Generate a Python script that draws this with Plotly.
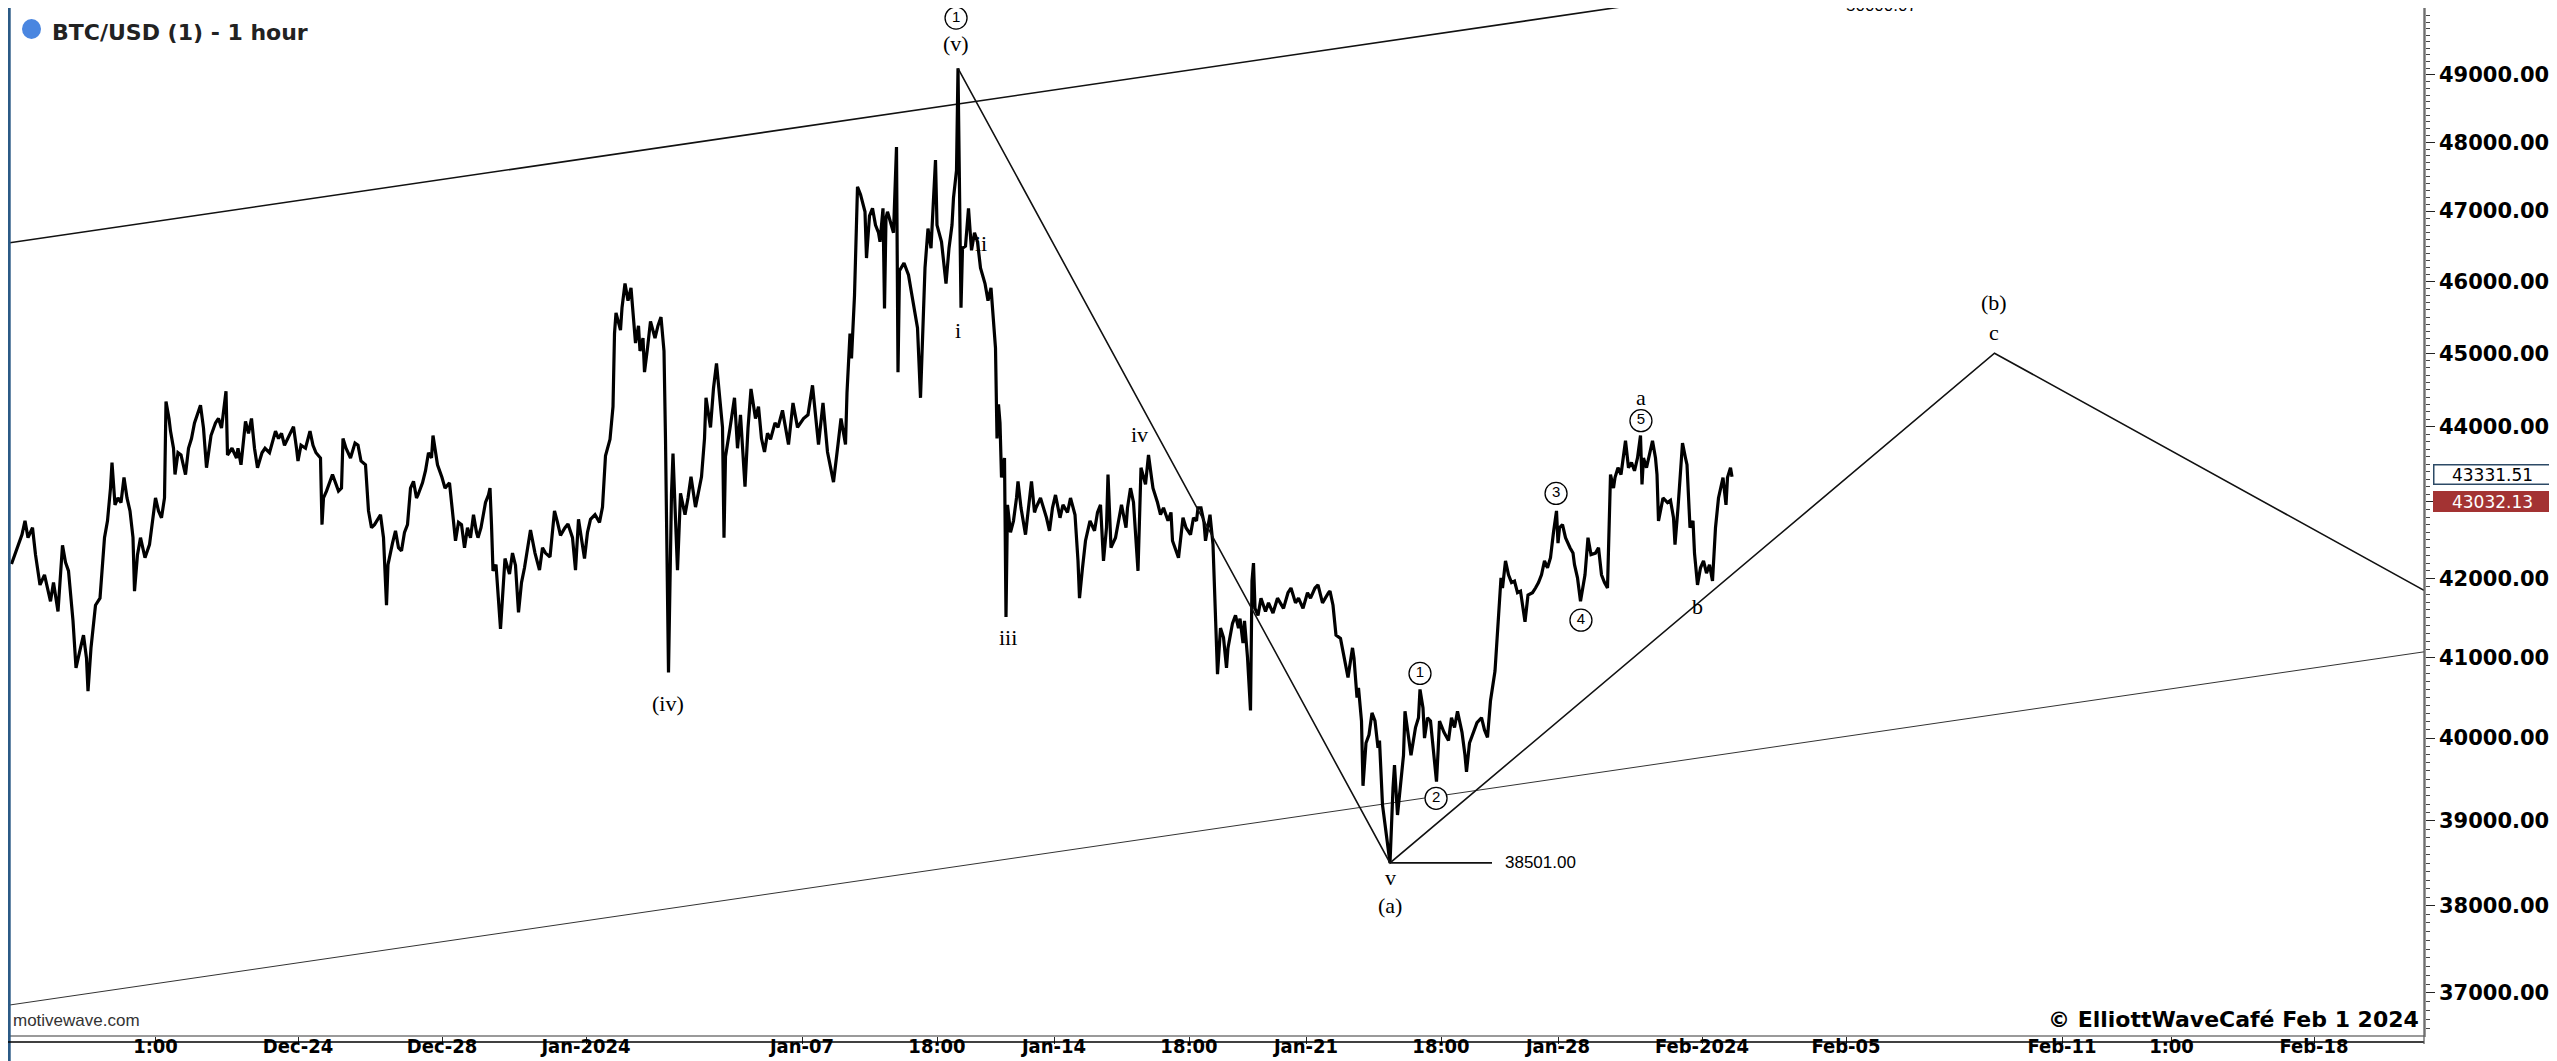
import math
import pandas as pd
import plotly.graph_objects as go

# ---------------- data ----------------
T0 = pd.Timestamp("2023-12-16 00:00")  # hours below are counted from this moment

hours = [
    1, 5, 8, 10, 12, 15, 17, 20, 23, 27, 29, 32, 35, 37, 39, 42, 44, 47, 49, 51,
    52, 54, 55, 57, 60, 63, 65, 67, 68, 70, 72, 74, 76, 78, 80, 82, 83, 85, 87, 90,
    93, 95, 97, 99, 101, 103, 104, 106, 107, 109, 110, 112, 114, 117, 119, 121, 123, 127, 129, 131,
    133, 134, 137, 139, 141, 143, 144, 145, 148, 151, 152, 154, 157, 159, 161, 163, 165, 168, 170, 173,
    177, 179, 181, 183, 185, 189, 191, 192, 194, 197, 200, 202, 204, 207, 208, 209, 211, 213, 215, 219,
    221, 222, 224, 227, 230, 232, 234, 237, 239, 241, 243, 247, 249, 251, 252, 255, 257, 259, 261, 263,
    265, 267, 269, 271, 272, 275, 277, 279, 281, 282, 284, 285, 288, 290, 293, 295, 297, 299, 301, 303,
    305, 307, 309, 311, 312, 314, 315, 317, 319, 320, 321, 322, 324, 325, 327, 330, 333, 335, 337, 339,
    341, 343, 347, 350, 353, 355, 357, 360, 363, 365, 367, 370, 372, 375, 377, 379, 381, 383, 385, 387,
    390, 393, 395, 397, 400, 402, 403, 404, 407, 408, 410, 412, 414, 417, 419, 420, 422, 423, 425, 427,
    430, 432, 434, 436, 437, 439, 441, 442, 443, 445, 447, 449, 450, 452, 454, 457, 461, 463, 464, 467,
    469, 471, 473, 475, 476, 477, 480, 483, 485, 487, 490, 492, 494, 497, 499, 501, 503, 505, 507, 510,
    512, 515, 519, 522, 525, 529, 532, 535, 539, 542, 545, 549, 552, 554, 557, 558, 560, 561, 563, 565,
    567, 569, 570, 571, 573, 575, 577, 579, 580, 582, 583, 584, 585, 589, 591, 592, 593, 596, 599, 601,
    603, 605, 607, 609, 610, 612, 614, 617, 618, 621, 623, 624, 626, 628, 629, 631, 632, 633, 634, 635,
    637, 639, 641, 643, 645, 647, 650, 652, 654, 657, 658, 659, 660, 661, 663, 664, 665, 667, 669, 671,
    672, 674, 677, 679, 681, 683, 684, 687, 691, 693, 695, 697, 700, 702, 705, 707, 710, 712, 713, 715,
    717, 720, 723, 725, 727, 729, 731, 732, 733, 734, 737, 739, 741, 744, 745, 747, 749, 752, 753, 754,
    757, 759, 761, 762, 765, 767, 769, 772, 774, 775, 779, 781, 782, 784, 787, 789, 791, 792, 794, 796,
    797, 800, 802, 803, 805, 807, 809, 811, 812, 815, 817, 819, 820, 822, 823, 825, 827, 828, 829, 830,
    832, 834, 837, 839, 842, 845, 849, 852, 854, 857, 859, 862, 865, 867, 870, 872, 875, 879, 880, 882,
    884, 887, 889, 891, 892, 895, 896, 898, 899, 901, 902, 904, 906, 908, 910, 912, 913, 915, 917, 920,
    922, 923, 925, 927, 929, 930, 932, 934, 937, 939, 940, 942, 943, 945, 947, 949, 951, 952, 953, 956,
    959, 961, 963, 965, 968, 970, 971, 973, 975, 978, 981, 983, 985, 987, 990, 992, 994, 995, 997, 999,
    1001, 1003, 1005, 1007, 1010, 1012, 1015, 1017, 1019, 1021, 1023, 1025, 1027, 1029, 1031, 1032, 1033, 1035, 1037, 1040,
    1042, 1043, 1045, 1047, 1049, 1050, 1052, 1054, 1057, 1059, 1061, 1063, 1065, 1066, 1067, 1069, 1070, 1072, 1074, 1077,
    1079, 1081, 1083, 1085, 1087, 1088, 1089, 1091, 1093, 1095, 1097, 1098, 1099, 1101, 1102, 1105, 1107, 1109, 1110, 1112,
    1113, 1115, 1117, 1118, 1120, 1122, 1123, 1125, 1127, 1129, 1131, 1133, 1135, 1136, 1137, 1139, 1141, 1142, 1144, 1145,
    1147, 1148,
]

prices = [
    42190, 42400, 42570, 42750, 42530, 42660, 42310, 41920, 42050, 41710, 41950, 41580, 42430, 42210, 42100, 41460, 40870, 41120, 41280, 40990,
    40580, 41120, 41330, 41660, 41750, 42530, 42750, 43180, 43520, 42960, 43050, 42990, 43320, 43050, 42880, 42530, 41840, 42310, 42530, 42270,
    42440, 42790, 43050, 42880, 42790, 43050, 44340, 44110, 43940, 43710, 43360, 43650, 43620, 43360, 43710, 43840, 44050, 44290, 43980, 43450,
    43710, 43880, 44050, 44110, 43980, 44320, 44480, 43620, 43710, 43580, 43710, 43490, 44070, 43910, 44110, 43710, 43450, 43650, 43710, 43650,
    43940, 43840, 43910, 43750, 43840, 44000, 43710, 43540, 43750, 43710, 43940, 43750, 43650, 43580, 42700, 43050, 43140, 43250, 43360, 43140,
    43180, 43840, 43710, 43580, 43780, 43750, 43540, 43490, 42880, 42660, 42700, 42830, 42530, 41660, 42180, 42460, 42620, 42400, 42360, 42600,
    42700, 43180, 43270, 43050, 43090, 43250, 43410, 43650, 43580, 43880, 43650, 43490, 43320, 43180, 43250, 42880, 42490, 42730, 42700, 42400,
    42660, 42530, 42830, 42600, 42530, 42660, 42790, 42990, 43090, 43180, 42700, 42100, 42180, 41880, 41360, 42260, 42060, 42330, 42170, 41570,
    41950, 42140, 42630, 42330, 42110, 42400, 42330, 42280, 42880, 42730, 42560, 42660, 42710, 42530, 42110, 42770, 42530, 42260, 42600, 42770,
    42830, 42730, 42930, 43610, 43830, 44270, 45270, 45560, 45320, 45630, 45970, 45730, 45910, 45140, 45380, 45030, 45210, 44740, 45070, 45440,
    45210, 45380, 45500, 45030, 43830, 40810, 43110, 43640, 43110, 42110, 43110, 42920, 42830, 43050, 43330, 42930, 43330, 43840, 44390, 43990,
    44520, 44860, 44390, 43990, 42530, 43600, 43980, 44390, 43710, 44160, 43200, 43980, 44510, 44110, 44270, 43840, 43660, 43910, 43830, 44050,
    43990, 44220, 43760, 44320, 43990, 44110, 44160, 44560, 43760, 44320, 43660, 43260, 43760, 44110, 43760, 44460, 45270, 44930, 45800, 47350,
    47240, 47040, 46990, 46330, 46930, 47040, 46800, 46690, 46560, 47040, 45620, 46900, 46990, 46690, 47930, 44740, 46150, 46260, 46090, 45840,
    45620, 45350, 44390, 45440, 46190, 46750, 46470, 47740, 46800, 46560, 46190, 45970, 46470, 46800, 47190, 47590, 49100, 47330, 45630, 46470,
    46500, 47040, 46440, 46690, 46560, 46190, 45970, 45730, 45910, 45070, 43840, 44300, 44050, 43320, 43580, 41510, 42960, 42600, 42750, 43050,
    43270, 42920, 42570, 42920, 43270, 42860, 42920, 43050, 42790, 42620, 42920, 43090, 42790, 42960, 42860, 43050, 42830, 42230, 41750, 42140,
    42490, 42750, 42620, 42860, 42960, 42230, 42660, 43360, 42920, 42400, 42530, 42730, 42960, 42660, 42920, 43180, 42990, 42100, 42790, 43450,
    43230, 43620, 43320, 43180, 42990, 42830, 42920, 42750, 42860, 42490, 42270, 42600, 42790, 42660, 42570, 42790, 42750, 42920, 42920, 42730,
    42490, 42830, 42440, 41880, 40790, 41370, 41250, 40870, 41120, 41430, 41530, 41370, 41490, 41180, 41460, 41000, 40340, 41970, 42200, 41620,
    41530, 41750, 41580, 41690, 41560, 41750, 41620, 41820, 41880, 41690, 41750, 41620, 41820, 41750, 41880, 41920, 41690, 41820, 41840, 41660,
    41280, 41240, 41030, 40870, 40750, 41120, 40990, 40500, 40620, 40210, 39420, 39940, 40040, 40310, 40210, 39880, 39970, 39190, 38920, 38501,
    39390, 39670, 39070, 39390, 39790, 40330, 40070, 39790, 40130, 40250, 40600, 40370, 40000, 40250, 40210, 39880, 39470, 39820, 40210, 40070,
    39970, 40250, 40130, 40330, 40070, 39790, 39590, 39940, 40040, 40190, 40250, 40100, 40010, 40460, 40830, 41450, 42010, 41880, 42230, 42050,
    41950, 41970, 41820, 41840, 41450, 41790, 41820, 41880, 41950, 42050, 42230, 42140, 42270, 42600, 42880, 42460, 42660, 42700, 42530, 42400,
    42330, 42180, 42010, 41710, 41950, 42050, 42530, 42310, 42330, 42400, 42050, 41950, 41880, 42750, 43360, 43180, 43320, 43450, 43360, 43810,
    43450, 43520, 43410, 43580, 43880, 43230, 43580, 43450, 43650, 43810, 43580, 43360, 42750, 42920, 43050, 42990, 43020, 42790, 42440, 42920,
    43180, 43780, 43580, 43490, 42660, 42750, 42330, 41920, 42140, 42230, 42070, 42180, 41970, 42400, 42660, 43050, 43230, 43320, 42960, 43320,
    43450, 43330,
]

# straight-line drawings (hours from T0, price)
upper_channel_h = [-1.33, 1609.33]
upper_channel_p = [46543, 51863]
lower_channel_h = [-1.33, 1609.33]
lower_channel_p = [36860, 41070]
wave_h = [632, 920, 1323, 1609.33]
wave_p = [49100, 38501, 45000, 41850]
low_line_h = [920, 988]
low_line_p = [38501, 38501]

# Elliott wave labels (text, hours, price)
label_text = ["(v)", "ii", "i", "iii", "iv", "(iv)", "v", "(a)", "a", "b", "(b)", "c"]
label_h = [630.7, 647.5, 632, 665.3, 752.7, 438.7, 920, 920, 1087.3, 1125.3, 1322.7, 1322.7]
label_p = [49480, 46530, 45320, 41250, 43890, 40420, 38330, 38000, 44390, 41650, 45700, 45290]

circled_text = ["1", "1", "2", "3", "4", "5"]
circled_h = [630.7, 940, 950.7, 1030.7, 1047.3, 1087.3]
circled_p = [49860, 40800, 39270, 43110, 41470, 44080]

y_tick_values = [37000, 38000, 39000, 40000, 41000, 42000, 43000, 44000, 45000, 46000, 47000, 48000, 49000]
y_tick_labels = ["37000.00", "38000.00", "39000.00", "40000.00", "41000.00", "42000.00", "43000.00",
                 "44000.00", "45000.00", "46000.00", "47000.00", "48000.00", "49000.00"]

x_tick_values = ["2023-12-20 01:00", "2023-12-24", "2023-12-28", "2024-01-01", "2024-01-07",
                 "2024-01-10 18:00", "2024-01-14", "2024-01-17 18:00", "2024-01-21", "2024-01-24 18:00",
                 "2024-01-28", "2024-02-01", "2024-02-05", "2024-02-11", "2024-02-14 01:00", "2024-02-18"]
x_tick_labels = ["1:00", "Dec-24", "Dec-28", "Jan-2024", "Jan-07", "18:00", "Jan-14", "18:00", "Jan-21",
                 "18:00", "Jan-28", "Feb-2024", "Feb-05", "Feb-11", "1:00", "Feb-18"]

last_price = 43331.51
bid_price = 43032.13
low_value = 38501.00
top_cut_label = "50000.07"


def t(h):
    return T0 + pd.Timedelta(hours=h)


def ts(hs):
    return [t(h) for h in hs]


# ---------------- figure ----------------
fig = go.Figure()

fig.add_trace(go.Scatter(x=ts(upper_channel_h), y=upper_channel_p, mode="lines",
                         line=dict(color="#111111", width=1.6), hoverinfo="skip"))
fig.add_trace(go.Scatter(x=ts(lower_channel_h), y=lower_channel_p, mode="lines",
                         line=dict(color="#333333", width=1.0), hoverinfo="skip"))
fig.add_trace(go.Scatter(x=ts(hours), y=prices, mode="lines",
                         line=dict(color="#000000", width=3.2), name="BTC/USD"))
fig.add_trace(go.Scatter(x=ts(wave_h), y=wave_p, mode="lines",
                         line=dict(color="#111111", width=1.6), hoverinfo="skip"))
fig.add_trace(go.Scatter(x=ts(low_line_h), y=low_line_p, mode="lines",
                         line=dict(color="#111111", width=1.6), hoverinfo="skip"))
fig.add_trace(go.Scatter(x=ts(circled_h), y=circled_p, mode="markers+text",
                         text=circled_text, textposition="middle center",
                         textfont=dict(family="Liberation Sans", size=15, color="#000000"),
                         marker=dict(symbol="circle", size=22, color="#ffffff",
                                     line=dict(color="#000000", width=1.3)),
                         cliponaxis=False, hoverinfo="skip"))

annotations = []
for txt, h, p in zip(label_text, label_h, label_p):
    annotations.append(dict(x=t(h), y=math.log10(p), xref="x", yref="y", text=txt, showarrow=False,
                            xanchor="center", yanchor="middle",
                            font=dict(family="Liberation Serif", size=22, color="#000000")))

annotations.append(dict(x=t(low_line_h[1]), y=math.log10(low_value), xref="x", yref="y",
                        text=f"{low_value:.2f}", showarrow=False, xanchor="left", yanchor="middle",
                        xshift=11, font=dict(family="Liberation Sans", size=17, color="#000000")))

annotations.append(dict(x=1836 / 2416, y=1, xref="paper", yref="paper", text=top_cut_label,
                        showarrow=False, xanchor="left", yanchor="middle", yshift=3,
                        font=dict(family="Liberation Sans", size=17, color="#000000")))

# title
annotations.append(dict(x=42 / 2416, y=(1027 - 24) / 1027, xref="paper", yref="paper",
                        text="BTC/USD (1) - 1 hour", showarrow=False, xanchor="left", yanchor="middle",
                        font=dict(family="DejaVu Sans", size=22, color="#222222", weight="bold")))

# price boxes on the axis
annotations.append(dict(x=1, y=math.log10(last_price), xref="paper", yref="y", text=f"{last_price:.2f}",
                        showarrow=False, xanchor="left", yanchor="middle", xshift=9, width=116, height=18,
                        yshift=2, align="center", bgcolor="#ffffff", bordercolor="#2d4a66", borderwidth=1.5,
                        borderpad=0, font=dict(family="DejaVu Sans", size=17, color="#000000")))
annotations.append(dict(x=1, y=math.log10(bid_price), xref="paper", yref="y", text=f"{bid_price:.2f}",
                        showarrow=False, xanchor="left", yanchor="middle", xshift=9, width=116, height=18,
                        yshift=-2, align="center", bgcolor="#a33333", bordercolor="#a33333", borderwidth=1.5,
                        borderpad=0, font=dict(family="DejaVu Sans", size=17, color="#ffffff")))

# footer texts
annotations.append(dict(x=1, y=(1027 - 1011) / 1027, xref="paper", yref="paper",
                        text="© ElliottWaveCafé Feb 1 2024", showarrow=False, xanchor="right",
                        yanchor="middle", xshift=-3,
                        font=dict(family="DejaVu Sans", size=22, color="#000000", weight="bold")))
annotations.append(dict(x=3 / 2416, y=(1027 - 1012) / 1027, xref="paper", yref="paper",
                        text="motivewave.com", showarrow=False, xanchor="left", yanchor="middle",
                        font=dict(family="Liberation Sans", size=17, color="#333333")))

shapes = [
    # blue marker of the title
    dict(type="circle", xref="paper", yref="paper", x0=14 / 2416, x1=33 / 2416,
         y0=(1027 - 31) / 1027, y1=(1027 - 11) / 1027, fillcolor="#4a86e0", line=dict(width=0)),
    # left frame
    dict(type="line", xref="paper", yref="paper", x0=0.0005, x1=0.0005, y0=-0.04, y1=1.0,
         line=dict(color="#2b5a86", width=3)),
    # lower rule of the time axis
    dict(type="line", xref="paper", yref="paper", x0=0, x1=1, y0=-7 / 1027, y1=-7 / 1027,
         line=dict(color="#000000", width=1.5)),
    dict(type="line", xref="paper", yref="paper", x0=1, x1=1, y0=-9 / 1027, y1=1.0,
         line=dict(color="#555555", width=1.2)),
]

minor_vals = [v for v in range(36600, 50100, 100) if v % 1000 != 0]

fig.update_layout(
    width=2557, height=1061,
    margin=dict(l=0, r=141, t=0, b=34),
    paper_bgcolor="#ffffff", plot_bgcolor="#ffffff",
    showlegend=False,
    annotations=annotations,
    shapes=shapes,
    xaxis=dict(
        type="date",
        range=[t(-1.33), t(1609.33)],
        tickmode="array", tickvals=x_tick_values, ticktext=x_tick_labels,
        ticks="outside", ticklen=7, tickwidth=1, tickcolor="#222222",
        ticklabelstandoff=-15,
        showline=True, linecolor="#9a9a9a", linewidth=1.5,
        showgrid=False, zeroline=False,
        tickfont=dict(family="DejaVu Sans Condensed, DejaVu Sans", size=20, color="#000000", weight="bold"),
    ),
    yaxis=dict(
        type="log", side="right",
        range=[math.log10(36526), math.log10(50014)],
        tickmode="array", tickvals=y_tick_values, ticktext=y_tick_labels,
        ticks="outside", ticklen=9, tickwidth=1, tickcolor="#222222",
        minor=dict(tickmode="array", tickvals=minor_vals, ticks="outside", ticklen=4,
                   tickcolor="#444444", tickwidth=1, showgrid=False),
        showline=True, linecolor="#9a9a9a", linewidth=1.5,
        showgrid=False, zeroline=False,
        tickfont=dict(family="DejaVu Sans", size=21, color="#000000", weight="bold"),
    ),
)

fig.write_html("out.html")
